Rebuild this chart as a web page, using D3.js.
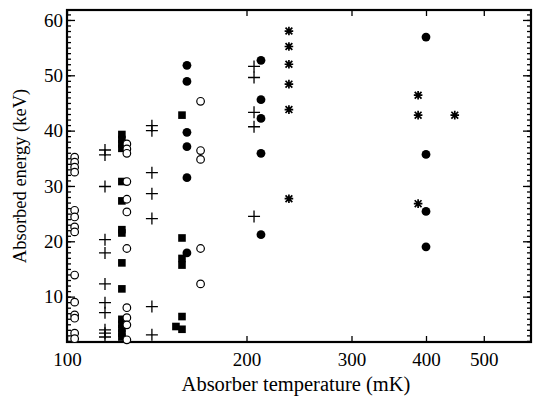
<!DOCTYPE html>
<html>
<head>
<meta charset="utf-8">
<script src="https://cdn.jsdelivr.net/npm/d3@7"></script>
<style>
  body { margin: 0; background: #fff; }
  text { font-family: "Liberation Serif", "DejaVu Serif", serif; fill: #000; }
</style>
</head>
<body>
<div id="chart"></div>
<script>
// temperature (mK) of each column, and energies (keV) measured there
const openCircles = [
  { t: 103, e: [35.2, 34.3, 33.4, 32.5, 25.6, 24.4, 22.6, 21.7, 13.9, 9.0, 6.7, 6.1, 3.4, 2.4] },
  { t: 126, e: [37.6, 36.7, 35.9, 30.8, 27.6, 25.3, 18.7, 8.0, 6.2, 4.9, 2.2] },
  { t: 167.5, e: [45.3, 36.4, 34.8, 18.7, 12.3] }
];
const pluses = [
  { t: 115.8, e: [36.5, 35.6, 29.9, 20.3, 17.9, 12.3, 8.9, 7.1, 4.0, 3.4, 2.7] },
  { t: 138.8, e: [40.9, 40.0, 32.4, 28.6, 24.1, 8.2, 3.1] },
  { t: 205.9, e: [51.6, 49.6, 43.3, 40.7, 24.5] }
];
const squares = [
  { t: 123.6, e: [39.3, 38.4, 37.6, 36.8, 30.8, 27.3, 22.1, 21.5, 16.1, 11.4, 5.9, 5.0, 4.2, 3.4, 2.7] },
  { t: 152.3, e: [4.6] },
  { t: 155.9, e: [42.8, 20.6, 16.9, 15.7, 6.4, 4.1] }
];
const dots = [
  { t: 158.9, e: [51.8, 48.9, 39.7, 37.1, 31.5, 17.9] },
  { t: 211.5, e: [52.7, 45.6, 42.2, 35.9, 21.2] },
  { t: 400, e: [56.9, 35.7, 25.4, 19.0] }
];
const stars = [
  { t: 235.6, e: [58.0, 55.2, 52.0, 48.4, 43.8, 27.7] },
  { t: 388, e: [46.4, 42.8, 26.8] },
  { t: 447, e: [42.8] }
];
const xTicks = [100, 200, 300, 400, 500];
const yTicks = [10, 20, 30, 40, 50, 60];

const W = 533, H = 398;
const L = 67, R = 531, T = 10, B = 342;

const svg = d3.select('#chart').append('svg')
  .attr('width', W).attr('height', H);

const x = d3.scaleLog().domain([100, 600]).range([L, R]);
const y = d3.scaleLinear().domain([1.8, 61.8]).range([B, T]);

const flat = groups => groups.flatMap(g => g.e.map(v => ({ t: g.t, e: v })));

// axes: ticks drawn inward on all four sides
const minorY = d3.range(2, 62, 1);
svg.append('g').attr('transform', `translate(${L},0)`)
  .call(d3.axisLeft(y).tickValues(minorY).tickSize(-4).tickFormat(''));
svg.append('g').attr('transform', `translate(${R},0)`)
  .call(d3.axisRight(y).tickValues(minorY).tickSize(-4).tickFormat(''));
svg.append('g').attr('class', 'yl').attr('transform', `translate(${L},0)`)
  .call(d3.axisLeft(y).tickValues(yTicks).tickSize(-8).tickPadding(4));
svg.append('g').attr('transform', `translate(${R},0)`)
  .call(d3.axisRight(y).tickValues(yTicks).tickSize(-8).tickFormat(''));
svg.append('g').attr('class', 'xl').attr('transform', `translate(0,${B})`)
  .call(d3.axisBottom(x).tickValues(xTicks).tickSize(-6).tickPadding(11).tickFormat(d3.format('d')));
svg.append('g').attr('transform', `translate(0,${T})`)
  .call(d3.axisTop(x).tickValues(xTicks).tickSize(-6).tickFormat(''));

svg.selectAll('.domain').remove();
svg.selectAll('.tick line').attr('stroke', '#000').attr('stroke-width', 1.3);
svg.selectAll('.tick text').style('font-size', '19px').attr('fill', '#000');
svg.selectAll('.xl .tick text').attr('dy', '0.71em');

svg.append('rect')
  .attr('x', L).attr('y', T).attr('width', R - L).attr('height', B - T)
  .attr('fill', 'none').attr('stroke', '#000').attr('stroke-width', 2.2);

// markers
const plusPath = d => {
  const cx = x(d.t), cy = y(d.e), r = 6;
  return `M${cx - r},${cy}H${cx + r}M${cx},${cy - r}V${cy + r}`;
};
const starPath = d => {
  const cx = x(d.t), cy = y(d.e), r = 4.3, s = 3.4;
  return `M${cx - r},${cy}H${cx + r}M${cx},${cy - r}V${cy + r}` +
    `M${cx - s},${cy - s}L${cx + s},${cy + s}M${cx - s},${cy + s}L${cx + s},${cy - s}`;
};

svg.append('g').selectAll('rect').data(flat(squares)).join('rect')
  .attr('x', d => x(d.t) - 3.8).attr('y', d => y(d.e) - 3.8)
  .attr('width', 7.6).attr('height', 7.6).attr('fill', '#000');

svg.append('g').selectAll('circle').data(flat(dots)).join('circle')
  .attr('cx', d => x(d.t)).attr('cy', d => y(d.e)).attr('r', 4.4).attr('fill', '#000');

svg.append('g').selectAll('circle').data(flat(openCircles)).join('circle')
  .attr('cx', d => x(d.t)).attr('cy', d => y(d.e)).attr('r', 3.8)
  .attr('fill', '#fff').attr('stroke', '#000').attr('stroke-width', 1.2);

svg.append('g').selectAll('path').data(flat(pluses)).join('path')
  .attr('d', plusPath).attr('stroke', '#000').attr('stroke-width', 1.3).attr('fill', 'none');

svg.append('g').selectAll('path').data(flat(stars)).join('path')
  .attr('d', starPath).attr('stroke', '#000').attr('stroke-width', 1.7).attr('fill', 'none');

// axis titles
svg.append('text')
  .attr('x', 296).attr('y', 391)
  .attr('text-anchor', 'middle').style('font-size', '20.5px')
  .text('Absorber temperature (mK)');
svg.append('text')
  .attr('transform', `translate(26,176) rotate(-90)`)
  .attr('text-anchor', 'middle').style('font-size', '18.5px')
  .text('Absorbed energy (keV)');
</script>
</body>
</html>
